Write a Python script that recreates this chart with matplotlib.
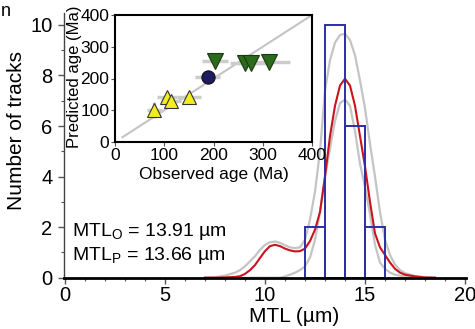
import matplotlib.pyplot as plt
from matplotlib.ticker import MultipleLocator

plt.rcParams['font.family'] = ['Liberation Sans', 'DejaVu Sans']
plt.rcParams['mathtext.default'] = 'regular'

# histogram of measured lengths
binEdges = [12, 13, 14, 15]
binCounts = [2, 10, 6, 2]

# modelled length distribution (red) and its envelope (grey)
mtlX = [7.0, 7.5, 8.0, 8.5, 8.75, 9.0, 9.25, 9.5, 9.75, 10.0, 10.25, 10.5, 10.75,
        11.0, 11.25, 11.5, 11.75, 12.0, 12.25, 12.5, 12.75, 13.0, 13.25, 13.5,
        13.75, 14.0, 14.25, 14.5, 14.75, 15.0, 15.25, 15.5, 15.75, 16.0, 16.25,
        16.5, 16.75, 17.0, 17.5, 18.0, 18.5]
redY = [0.0, 0.0, 0.01, 0.03, 0.06, 0.15, 0.3, 0.5, 0.78, 1.05, 1.25, 1.3, 1.25,
        1.15, 1.08, 1.04, 1.05, 1.15, 1.45, 1.9, 2.6, 4.0, 5.6, 6.8,
        7.6, 7.87, 7.6, 6.8, 5.6, 4.4, 3.0, 1.75, 1.2, 0.9, 0.6,
        0.35, 0.2, 0.12, 0.05, 0.01, 0.0]
upperY = [0.0, 0.02, 0.08, 0.2, 0.3, 0.45, 0.65, 0.85, 1.1, 1.3, 1.4, 1.43, 1.38,
          1.28, 1.2, 1.17, 1.2, 1.5, 2.3, 3.4, 5.0, 7.4, 8.6, 9.3,
          9.6, 9.65, 9.4, 8.8, 7.8, 6.7, 5.3, 4.0, 2.6, 1.5, 0.9,
          0.52, 0.3, 0.18, 0.07, 0.02, 0.0]
lowerY = [0.0, 0.0, 0.0, 0.0, 0.0, 0.0, 0.0, 0.0, 0.0, 0.0, 0.0, 0.0, 0.0,
          0.05, 0.12, 0.2, 0.3, 0.45, 0.8, 1.5, 2.6, 4.0, 5.1, 6.2,
          6.9, 7.05, 6.8, 5.8, 4.5, 3.6, 2.5, 1.3, 0.6, 0.35, 0.2,
          0.12, 0.08, 0.05, 0.0, 0.0, 0.0]

# inset: observed vs predicted ages
yellowObs = [80, 105, 114, 150]
yellowPred = [100, 141, 128, 141]
yellowObsErr = [15, 20, 20, 25]
yellowPredErr = [25, 15, 15, 15]
navyObs = [188]
navyPred = [205]
navyObsErr = [25]
navyPredErr = [22]
greenObs = [203, 264, 277, 313]
greenPred = [254, 250, 250, 253]
greenObsErr = [27, 30, 30, 42]
greenPredErr = [8, 8, 8, 8]

fig = plt.figure(figsize=(4.75, 3.29), dpi=100)
ax = fig.add_axes([63.5 / 475, 1 - 277.7 / 329, (466 - 63.5) / 475, (277.7 - 13) / 329])

grey = '#c4c4c4'
ax.plot(mtlX, upperY, color=grey, lw=1.6, zorder=2)
ax.plot(mtlX, lowerY, color=grey, lw=1.6, zorder=2)
ax.plot(mtlX, redY, color='#c8141e', lw=1.5, zorder=3)
ax.bar(binEdges, binCounts, width=1, align='edge', fill=False,
       edgecolor='#2e2ea6', lw=1.4, zorder=4)

ax.set_xlim(-0.075, 20.05)
ax.set_ylim(0, 10.47)
ax.xaxis.set_major_locator(MultipleLocator(5))
ax.xaxis.set_minor_locator(MultipleLocator(1))
ax.yaxis.set_major_locator(MultipleLocator(2))
ax.yaxis.set_minor_locator(MultipleLocator(1))
ax.tick_params(which='both', direction='out', labelsize=14.5, color='#555555')
ax.tick_params(which='major', length=4, width=1)
ax.tick_params(which='minor', length=2.5, width=0.8)
ax.tick_params(axis='x', pad=2)
ax.tick_params(axis='y', pad=4)
for s in ['top', 'right']:
    ax.spines[s].set_visible(False)
ax.spines['left'].set_color('#444444')
ax.spines['left'].set_linewidth(1.0)
ax.spines['bottom'].set_color('black')
ax.spines['bottom'].set_linewidth(2.0)
ax.spines['bottom'].set_zorder(5)

fig.text(17 / 475, 1 - 130 / 329, 'Number of tracks', rotation=90,
         fontsize=15, ha='center', va='center')
fig.text(294 / 475, 1 - 316 / 329, 'MTL (µm)', fontsize=15,
         ha='center', va='center')
fig.text(72 / 475, 1 - 232 / 329, 'MTL$_{O}$ = 13.91 µm', fontsize=14,
         ha='left', va='center')
fig.text(72 / 475, 1 - 255 / 329, 'MTL$_{P}$ = 13.66 µm', fontsize=14,
         ha='left', va='center')
fig.text(0.002, 1 - 3 / 329, 'n', fontsize=13, ha='left', va='top')

# inset
ins = fig.add_axes([115 / 475, 1 - 142 / 329, 197 / 475, 127 / 329])
ins.set_facecolor('white')
ins.plot([15, 400], [15, 400], color=grey, lw=1.5, zorder=1)
errStyle = dict(fmt='none', ecolor='#cccccc', elinewidth=2.5, capsize=0, zorder=2)
ins.errorbar(greenObs, greenPred, xerr=greenObsErr, yerr=greenPredErr, **errStyle)
ins.errorbar(navyObs, navyPred, xerr=navyObsErr, yerr=navyPredErr, **errStyle)
ins.errorbar(yellowObs, yellowPred, xerr=yellowObsErr, yerr=yellowPredErr, **errStyle)
ins.plot(yellowObs, yellowPred, '^', ms=10.5, color='#f2ee1c', mec='#333333', mew=0.8, zorder=3)
ins.plot(navyObs, navyPred, 'o', ms=9.5, color='#1c1c5e', mec='#111111', mew=0.8, zorder=3)
ins.plot(greenObs, greenPred, 'v', ms=11, color='#2c6a1c', mec='#1a3a10', mew=0.8, zorder=3)
ins.set_xlim(0, 400)
ins.set_ylim(0, 400)
ins.set_xticks([0, 100, 200, 300, 400])
ins.set_yticks([0, 100, 200, 300, 400])
ins.tick_params(direction='out', length=3, labelsize=12.5, pad=1, color='#555555')
for s in ins.spines.values():
    s.set_color('black')
    s.set_linewidth(1.5)
fig.text(214 / 475, 1 - 174 / 329, 'Observed age (Ma)', fontsize=12.5,
         ha='center', va='center')
fig.text(74 / 475, 1 - 77 / 329, 'Predicted age (Ma)', rotation=90, fontsize=12,
         ha='center', va='center')

fig.savefig('out.png', dpi=100)
